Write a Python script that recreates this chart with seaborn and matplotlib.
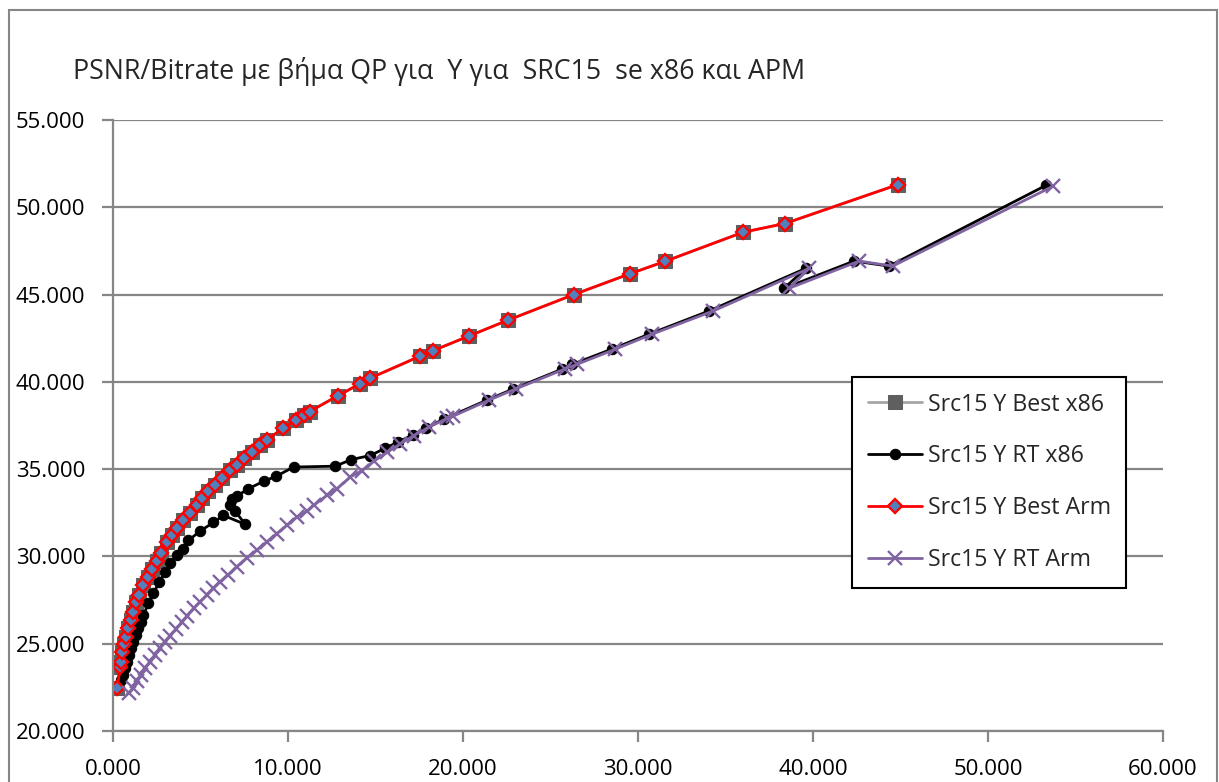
import numpy as np
import pandas as pd
import matplotlib
matplotlib.use("Agg")
import matplotlib.pyplot as plt
from matplotlib.patches import Rectangle
from matplotlib.ticker import FormatStrFormatter, MultipleLocator
import seaborn as sns

# --- Daten ---
best_rate = [0.25, 0.40, 0.44, 0.53, 0.63, 0.74, 0.88, 1.01, 1.16, 1.32, 1.51, 1.74,
             1.98, 2.21, 2.50, 2.75, 3.07, 3.36, 3.68, 4.02, 4.41, 4.79, 5.11, 5.45,
             5.84, 6.22, 6.69, 7.07, 7.49, 7.93, 8.41, 8.79, 9.74, 10.47, 10.91, 11.23,
             12.85, 14.13, 14.67, 17.52, 18.27, 20.35, 22.56, 26.33, 29.56, 31.54, 36.00,
             38.40, 44.85]
best_psnr = [22.45, 23.64, 23.98, 24.55, 24.99, 25.41, 25.88, 26.36, 26.84, 27.41, 27.78, 28.36,
             28.83, 29.27, 29.73, 30.20, 30.83, 31.21, 31.63, 32.11, 32.51, 32.96, 33.35, 33.72,
             34.11, 34.51, 34.96, 35.25, 35.63, 36.01, 36.39, 36.69, 37.35, 37.84, 38.10, 38.30,
             39.20, 39.90, 40.20, 41.46, 41.78, 42.63, 43.53, 45.00, 46.20, 46.90, 48.57,
             49.07, 51.30]

rt_x86_rate = [0.47, 0.55, 0.69, 0.80, 0.93, 1.05, 1.16, 1.30, 1.45, 1.60, 1.74, 2.02, 2.31,
               2.65, 2.97, 3.26, 3.68, 3.99, 4.31, 4.98, 5.74, 6.31, 7.55, 6.98, 6.69, 6.79,
               7.07, 7.74, 8.60, 9.30, 10.32, 12.70, 13.62, 14.70, 15.56, 16.27, 17.14, 17.90,
               18.94, 21.38, 22.87, 25.67, 26.24, 28.49, 30.63, 34.06, 39.59, 38.35, 42.35,
               44.35, 53.32]
rt_x86_psnr = [22.95, 23.22, 23.60, 23.98, 24.36, 24.74, 25.12, 25.50, 25.88, 26.26, 26.64, 27.31,
               27.88, 28.55, 29.12, 29.60, 30.10, 30.45, 30.92, 31.45, 31.95, 32.35, 31.84, 32.60,
               32.96, 33.30, 33.45, 33.88, 34.30, 34.58, 35.12, 35.17, 35.55, 35.78, 36.20, 36.55,
               36.96, 37.36, 37.88, 38.96, 39.59, 40.73, 41.00, 41.87, 42.73, 44.06, 46.50,
               45.36, 46.92, 46.63, 51.26]

rt_arm_rate = [0.93, 1.16, 1.35, 1.58, 1.83, 2.12, 2.40, 2.69, 2.97, 3.26, 3.60, 3.93, 4.25,
               4.60, 4.98, 5.36, 5.74, 6.12, 6.56, 7.07, 7.65, 8.22, 8.79, 9.36, 9.94, 10.51,
               11.10, 11.46, 12.22, 12.80, 13.56, 14.23, 14.89, 15.66, 16.42, 17.18, 18.04,
               19.09, 19.40, 21.50, 23.00, 25.80, 26.50, 28.70, 30.80, 34.30, 39.78, 38.63,
               42.64, 44.55, 53.70]
rt_arm_psnr = [22.17, 22.46, 22.84, 23.22, 23.60, 23.98, 24.36, 24.74, 25.12, 25.47, 25.84, 26.22,
               26.61, 27.02, 27.41, 27.78, 28.17, 28.55, 28.93, 29.41, 29.92, 30.36, 30.83, 31.31,
               31.78, 32.26, 32.60, 32.92, 33.50, 33.88, 34.55, 34.92, 35.44, 35.97, 36.45,
               36.92, 37.40, 37.91, 38.02, 38.96, 39.59, 40.73, 41.00, 41.87, 42.73, 44.06,
               46.50, 45.36, 46.92, 46.63, 51.20]

labels = ["Src15 Y Best x86", "Src15 Y RT x86", "Src15 Y Best Arm", "Src15 Y RT Arm"]
title = "PSNR/Bitrate με βήμα QP για  Y για  SRC15  se x86 και APM"

# --- Stil ---
sns.set_style("white")
plt.rcParams["font.family"] = ["Open Sans", "DejaVu Sans"]
grid_col = "#868686"

fig = plt.figure(figsize=(12.19, 7.82), dpi=100)
ax = fig.add_axes([113 / 1219, 1 - 731 / 782, (1163 - 113) / 1219, (731 - 120) / 782])

series = [
    (best_rate, best_psnr, dict(color="#A6A6A6", marker="s", markersize=9.5,
                                markerfacecolor="#5F5F5F", markeredgecolor="#5F5F5F")),
    (rt_x86_rate, rt_x86_psnr, dict(color="black", marker="o", markersize=7.5,
                                    markerfacecolor="black", markeredgecolor="black")),
    (best_rate, best_psnr, dict(color="#FF0000", marker="D", markersize=7,
                                markerfacecolor="#4F81BD", markeredgecolor="#FF0000",
                                markeredgewidth=1.7)),
    (rt_arm_rate, rt_arm_psnr, dict(color="#8064A2", marker="x", markersize=10,
                                    markeredgecolor="#8064A2", markeredgewidth=1.7)),
]

for (xs, ys, style), lab in zip(series, labels):
    df = pd.DataFrame({"rate": xs, "psnr": ys})
    sns.lineplot(data=df, x="rate", y="psnr", sort=False, estimator=None,
                 linewidth=2.0, label=lab, ax=ax, **style)

# --- Achsen ---
ax.set_xlim(0, 60)
ax.set_ylim(20, 55)
ax.xaxis.set_major_locator(MultipleLocator(10))
ax.yaxis.set_major_locator(MultipleLocator(5))
ax.xaxis.set_major_formatter(FormatStrFormatter("%.3f"))
ax.yaxis.set_major_formatter(FormatStrFormatter("%.3f"))
ax.set_xlabel("")
ax.set_ylabel("")
ax.grid(axis="y", color=grid_col, linewidth=1.6)
ax.grid(axis="x", visible=False)
for s in ["top", "right"]:
    ax.spines[s].set_visible(False)
for s in ["left", "bottom"]:
    ax.spines[s].set_color(grid_col)
    ax.spines[s].set_linewidth(1.6)
ax.tick_params(axis="both", direction="out", length=8, width=1.6, color=grid_col,
               labelsize=16, pad=12, labelcolor="black")
ax.tick_params(axis="y", left=True)
ax.tick_params(axis="x", bottom=True)

leg = ax.legend(loc="upper left", bbox_to_anchor=((852 - 113) / 1050, (731 - 377) / 611),
                fontsize=16.7, frameon=True, fancybox=False, framealpha=1,
                edgecolor="black", handlelength=2.33, labelspacing=1.2,
                borderpad=0.67, handletextpad=0.26, borderaxespad=0)
leg.get_frame().set_linewidth(1.5)

fig.text(73 / 1219, 1 - 72 / 782, title, fontsize=19.3, va="center", ha="left")

# Rahmen um das Diagramm
fig.patches.append(Rectangle((9 / 1219, -0.05), (1217 - 9) / 1219, 1.05 - 10 / 782,
                             transform=fig.transFigure, fill=False,
                             edgecolor="#868686", linewidth=1.5, clip_on=False))

fig.savefig("out.png", dpi=100)
